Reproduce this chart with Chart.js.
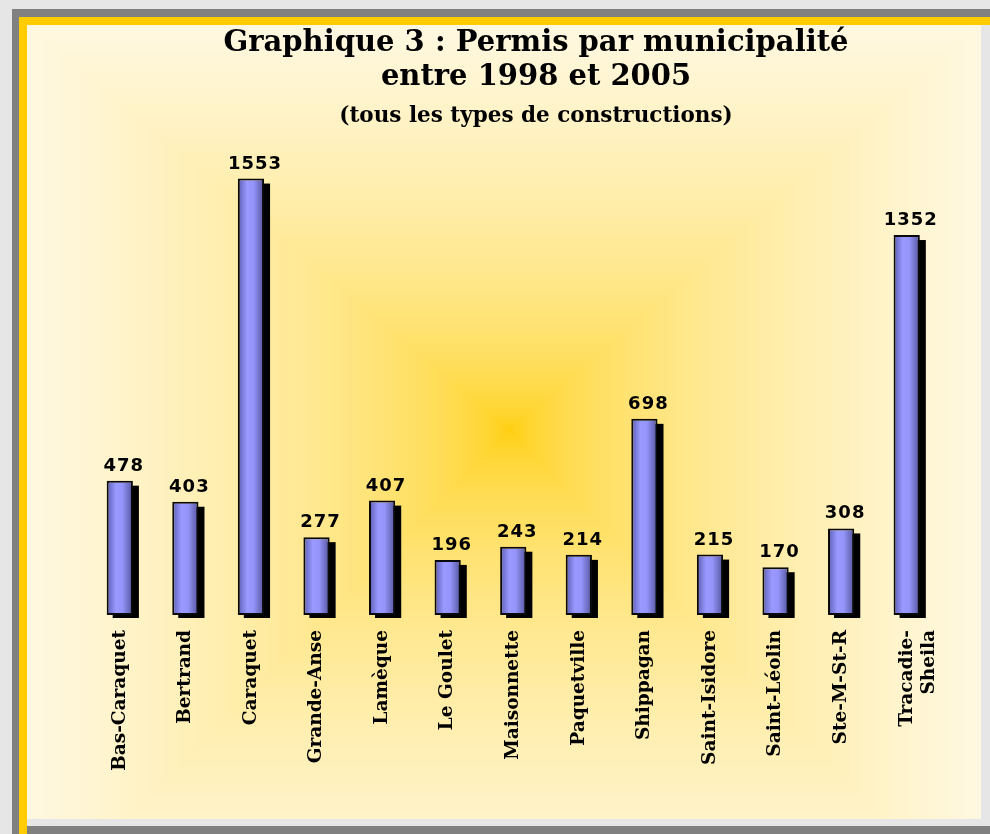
<!DOCTYPE html>
<html>
<head>
<meta charset="utf-8">
<title>Permis par municipalité</title>
<script src="https://cdn.jsdelivr.net/npm/chart.js@4.4.0/dist/chart.umd.min.js"></script>
<style>
html, body { margin: 0; padding: 0; }
body { width: 990px; height: 834px; position: relative; overflow: hidden; background: #e6e6e6; }
#ombreG { position: absolute; left: 12px; top: 9px; right: 0; bottom: 0; background: #808080; }
#cadre { position: absolute; left: 19px; top: 17px; right: 0; bottom: 0; background: #ffcc00; }
#dedans { position: absolute; left: 27px; top: 25px; right: 0; bottom: 8px; background: #e6e6e6; }
#ombreB { position: absolute; left: 27px; top: 826px; right: 0; bottom: 0; background: #808080; }
#graph { position: absolute; left: 0; top: 0; }
</style>
</head>
<body>
<div id="ombreG"></div>
<div id="cadre"></div>
<div id="dedans"></div>
<div id="ombreB"></div>
<canvas id="graph" width="990" height="834"></canvas>
<script>
// donnees
const municipalites = ['Bas-Caraquet', 'Bertrand', 'Caraquet', 'Grande-Anse', 'Lamèque', 'Le Goulet',
  'Maisonnette', 'Paquetville', 'Shippagan', 'Saint-Isidore', 'Saint-Léolin', 'Ste-M-St-R', ['Tracadie-', 'Sheila']];
const permis = [478, 403, 1553, 277, 407, 196, 243, 214, 698, 215, 170, 308, 1352];
const titre = ['Graphique 3 : Permis par municipalité', 'entre 1998 et 2005'];
const sousTitre = '(tous les types de constructions)';

// fond degrade rectangulaire (du centre vers les bords)
const fond = {
  id: 'fond',
  beforeDraw(chart) {
    const ctx = chart.ctx;
    // zone visible du fond
    const bx0 = 27, by0 = 25, bx1 = 981, by1 = 819;
    // boite du degrade (depasse un peu en bas)
    const x0 = 27, y0 = 25, x1 = 981, y1 = 920, cx = 510, cy = 430;
    const c0 = [255, 204, 0], c1 = [255, 248, 225];
    ctx.save();
    ctx.beginPath();
    ctx.rect(bx0, by0, bx1 - bx0, by1 - by0);
    ctx.clip();
    const n = 200;
    for (let i = n; i >= 0; i--) {
      const t = i / n;
      const k = Math.pow(t, 0.5);
      const col = c0.map((v, j) => Math.round(v + (c1[j] - v) * k));
      ctx.fillStyle = 'rgb(' + col.join(',') + ')';
      ctx.fillRect(cx - (cx - x0) * t, cy - (cy - y0) * t, (x1 - x0) * t, (y1 - y0) * t);
    }
    ctx.restore();
  }
};

// ombre noire des barres + valeurs au-dessus
const ombre = {
  id: 'ombre',
  beforeDatasetsDraw(chart) {
    const ctx = chart.ctx;
    ctx.save();
    ctx.fillStyle = '#000';
    chart.getDatasetMeta(0).data.forEach(bar => {
      const p = bar.getProps(['x', 'y', 'base', 'width'], true);
      ctx.fillRect(p.x - p.width / 2 + 6, p.y + 5, p.width, p.base - p.y - 2);
    });
    ctx.restore();
  },
  afterDatasetsDraw(chart) {
    const ctx = chart.ctx;
    ctx.save();
    ctx.font = 'bold 18px "DejaVu Sans"';
    ctx.letterSpacing = '1px';
    ctx.textAlign = 'center';
    ctx.textBaseline = 'alphabetic';
    ctx.fillStyle = '#000';
    chart.getDatasetMeta(0).data.forEach((bar, i) => {
      ctx.fillText(String(permis[i]), bar.x + 4, bar.y - 10);
    });
    ctx.restore();
  }
};

function degradeBarre(context) {
  const chart = context.chart;
  if (!chart.chartArea) return '#9999ff';
  const x = chart.scales.x.getPixelForValue(context.dataIndex);
  const g = chart.ctx.createLinearGradient(x - 13, 0, x + 13, 0);
  g.addColorStop(0, '#5c5cb4');
  g.addColorStop(0.35, '#9999ff');
  g.addColorStop(0.6, '#9494fa');
  g.addColorStop(1, '#55559c');
  return g;
}

const policeAxe = { family: '"DejaVu Serif"', size: 18.5, weight: 'bold' };

new Chart(document.getElementById('graph'), {
  type: 'bar',
  data: {
    labels: municipalites,
    datasets: [{
      data: permis,
      backgroundColor: degradeBarre,
      borderColor: '#0a0a0a',
      borderWidth: 2,
      borderSkipped: false,
      barPercentage: 0.4,
      categoryPercentage: 1,
      clip: false
    }]
  },
  options: {
    responsive: false,
    animation: false,
    devicePixelRatio: 1,
    layout: { padding: { left: 87, right: 5, top: 7, bottom: 0 } },
    plugins: {
      legend: { display: false },
      tooltip: { enabled: false },
      title: {
        display: true,
        text: titre,
        color: '#000',
        font: { family: '"DejaVu Serif"', size: 29, weight: 'bold', lineHeight: 1.18 },
        padding: { top: 19, bottom: 0 }
      },
      subtitle: {
        display: true,
        text: sousTitre,
        color: '#000',
        font: { family: '"DejaVu Serif"', size: 21.5, weight: 'bold', lineHeight: 1.2 },
        padding: { top: 9, bottom: 8 }
      }
    },
    scales: {
      x: {
        grid: { display: false, drawTicks: false },
        border: { display: false },
        ticks: { color: '#000', font: policeAxe, minRotation: 90, maxRotation: 90, autoSkip: false, padding: 15 },
        afterFit(s) { s.height = 219; }
      },
      y: {
        position: 'right',
        min: 0,
        max: 1700,
        grid: { display: false, drawTicks: false },
        border: { display: false },
        ticks: { display: false },
        afterFit(s) { s.width = 45.5; }
      }
    }
  },
  plugins: [fond, ombre]
});
</script>
</body>
</html>
